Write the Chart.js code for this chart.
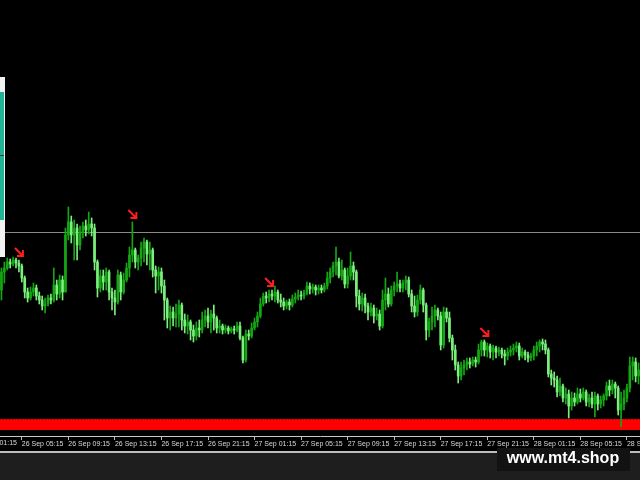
<!DOCTYPE html>
<html>
<head>
<meta charset="utf-8">
<title>M15 chart</title>
<script src="https://cdn.jsdelivr.net/npm/chart.js@4.4.0/dist/chart.umd.min.js"></script>
<style>
  html, body { margin: 0; padding: 0; background: #000; }
  canvas { display: block; }
</style>
</head>
<body>
<canvas id="priceChart" width="640" height="480"></canvas>
<script>
// first visible M15 bar: 26 Sep 03:30, one label every 16 bars
const firstBarUTC = Date.UTC(2023, 8, 26, 3, 30);
const barMinutes = 15;
const labelEvery = 16;
const labelOffset = 7;

// prices in points above the chart bottom
const firstOpen = 140;
const closes = [
  158, 162, 168, 166, 170, 167, 164, 152, 138, 132,
  138, 142, 134, 130, 124, 126, 132, 130, 145, 136,
  150, 138, 195, 208, 195, 202, 185, 198, 204, 200,
  206, 202, 168, 142, 154, 148, 158, 138, 132, 128,
  155, 138, 150, 162, 175, 180, 168, 172, 182, 188,
  176, 180, 160, 154, 158, 144, 130, 112, 118, 112,
  116, 125, 110, 104, 108, 100, 94, 102, 100, 110,
  114, 108, 116, 112, 102, 104, 100, 102, 99, 101,
  100, 104, 92, 70, 96, 94, 102, 108, 114, 126,
  134, 132, 136, 134, 138, 130, 128, 124, 128, 125,
  131, 133, 135, 134, 137, 144, 141, 143, 140, 142,
  140, 144, 152, 158, 164, 168, 154, 160, 146, 154,
  164, 158, 134, 126, 132, 124, 118, 122, 114, 116,
  104, 130, 136, 126, 140, 144, 146, 142, 147, 150,
  136, 124, 118, 130, 140, 125, 100, 108, 114, 120,
  114, 85, 118, 112, 92, 80, 65, 54, 62, 65,
  68, 66, 70, 68, 80, 88, 80, 84, 78, 82,
  78, 80, 76, 74, 78, 80, 82, 84, 74, 78,
  75, 72, 74, 80, 84, 88, 86, 80, 56, 52,
  50, 38, 44, 32, 36, 24, 32, 28, 36, 32,
  38, 28, 32, 26, 34, 26, 30, 34, 44, 40,
  46, 42, 20, 26, 32, 42, 64, 68, 54, 60,
];
const highs = [
  162, 168, 172, 171, 173, 172, 170, 166, 154, 142,
  143, 147, 145, 138, 134, 132, 135, 136, 162, 150,
  155, 154, 202, 223, 214, 210, 206, 204, 208, 210,
  218, 212, 206, 170, 160, 160, 162, 160, 142, 140,
  160, 158, 157, 167, 183, 208, 182, 175, 188, 192,
  190, 188, 182, 164, 163, 162, 150, 132, 124, 123,
  126, 130, 127, 116, 115, 110, 105, 108, 110, 118,
  120, 122, 120, 125, 114, 110, 106, 105, 104, 103,
  104, 108, 108, 94, 100, 100, 107, 112, 118, 132,
  137, 138, 140, 140, 144, 140, 136, 132, 130, 131,
  135, 137, 140, 139, 140, 148, 147, 146, 145, 145,
  145, 147, 158, 162, 168, 183, 172, 170, 162, 162,
  178, 168, 160, 140, 137, 136, 127, 127, 125, 122,
  120, 140, 152, 142, 144, 148, 158, 150, 150, 154,
  153, 140, 134, 135, 145, 142, 127, 112, 123, 125,
  122, 118, 123, 122, 118, 95, 85, 68, 68, 70,
  72, 72, 73, 73, 86, 90, 90, 87, 86, 85,
  84, 83, 82, 80, 82, 84, 86, 88, 87, 82,
  80, 78, 77, 84, 88, 90, 91, 90, 82, 60,
  58, 54, 52, 46, 42, 40, 38, 37, 42, 41,
  42, 40, 36, 38, 38, 36, 34, 36, 48, 50,
  50, 48, 44, 38, 40, 46, 73, 73, 72, 67,
];
const lows = [
  130, 147, 160, 162, 164, 162, 158, 148, 132, 128,
  130, 134, 130, 126, 120, 117, 124, 126, 128, 130,
  132, 130, 138, 190, 187, 170, 170, 180, 192, 194,
  196, 194, 160, 133, 138, 140, 140, 130, 120, 115,
  126, 130, 136, 148, 153, 168, 162, 160, 164, 168,
  165, 160, 153, 137, 140, 137, 110, 102, 100, 104,
  103, 103, 100, 97, 96, 90, 88, 90, 93, 97,
  103, 102, 97, 100, 97, 97, 96, 97, 96, 97,
  96, 98, 90, 67, 68, 90, 92, 100, 103, 112,
  124, 127, 128, 130, 128, 127, 123, 120, 121, 120,
  123, 127, 130, 130, 131, 135, 136, 137, 135, 136,
  137, 138, 141, 147, 153, 155, 152, 150, 142, 142,
  150, 150, 123, 120, 119, 117, 110, 114, 107, 110,
  100, 102, 120, 123, 124, 134, 138, 138, 138, 140,
  133, 118, 113, 114, 126, 118, 90, 93, 100, 103,
  110, 80, 82, 108, 88, 70, 60, 47, 50, 55,
  60, 62, 64, 63, 66, 74, 74, 73, 72, 70,
  72, 74, 72, 65, 70, 74, 75, 78, 70, 72,
  70, 68, 69, 70, 74, 78, 80, 76, 53, 45,
  43, 33, 34, 28, 26, 12, 20, 24, 26, 28,
  30, 24, 23, 22, 13, 20, 22, 24, 30, 34,
  36, 32, 15, 3, 20, 28, 38, 50, 48, 46,
];

// sell arrows (bar index, price) and horizontal levels
const arrowBars = [6, 45, 92, 166];
const arrowPrices = [178, 216, 148, 98];
const bidLevel = 198;
const redZone = [0, 11];

const monthNames = ["Jan", "Feb", "Mar", "Apr", "May", "Jun", "Jul", "Aug", "Sep", "Oct", "Nov", "Dec"];
const pad2 = (n) => String(n).padStart(2, "0");
const fmtTime = (ms) => {
  const d = new Date(ms);
  return d.getUTCDate() + " " + monthNames[d.getUTCMonth()] + " " + pad2(d.getUTCHours()) + ":" + pad2(d.getUTCMinutes());
};
const barTimes = closes.map((c, i) => fmtTime(firstBarUTC + i * barMinutes * 60000));

const opens = closes.map((c, i) => (i === 0 ? firstOpen : closes[i - 1]));
const bullColor = "#13a813";
const bearColor = "#7bef7b";
const candleColors = closes.map((c, i) => (c >= opens[i] ? bullColor : bearColor));

const isLabelBar = (i) => i % labelEvery === labelOffset;

const mt4Decor = {
  id: "mt4Decor",
  beforeDraw(chart) {
    const ctx = chart.ctx;
    ctx.save();
    ctx.fillStyle = "#000";
    ctx.fillRect(0, 0, chart.width, chart.height);
    ctx.restore();
  },
  beforeDatasetsDraw(chart) {
    const { ctx, chartArea } = chart;
    const y = chart.scales.y;
    ctx.save();
    // red zone at the bottom
    const zTop = y.getPixelForValue(redZone[1]);
    const zBot = y.getPixelForValue(redZone[0]);
    ctx.fillStyle = "#ff0000";
    ctx.fillRect(chartArea.left, zTop, chartArea.width, zBot - zTop);
    ctx.strokeStyle = "#a00000";
    ctx.lineWidth = 1;
    ctx.setLineDash([1, 2]);
    ctx.beginPath();
    ctx.moveTo(chartArea.left, Math.round(zTop) + 0.5);
    ctx.lineTo(chartArea.right, Math.round(zTop) + 0.5);
    ctx.stroke();
    ctx.setLineDash([]);
    // bid line
    const by = Math.round(y.getPixelForValue(bidLevel)) + 0.5;
    ctx.strokeStyle = "#8a8a8a";
    ctx.beginPath();
    ctx.moveTo(chartArea.left, by);
    ctx.lineTo(chartArea.right, by);
    ctx.stroke();
    ctx.restore();
  },
  afterDatasetsDraw(chart) {
    const ctx = chart.ctx;
    const { x, y } = chart.scales;
    ctx.save();
    // arrows
    ctx.strokeStyle = "#ff1e1e";
    ctx.lineWidth = 2;
    arrowBars.forEach((bar, k) => {
      const ax = x.getPixelForValue(bar);
      const ay = y.getPixelForValue(arrowPrices[k]);
      ctx.beginPath();
      ctx.moveTo(ax - 4, ay - 4);
      ctx.lineTo(ax + 4, ay + 4);
      ctx.moveTo(ax + 4, ay - 2);
      ctx.lineTo(ax + 4, ay + 4);
      ctx.lineTo(ax - 2, ay + 4);
      ctx.stroke();
    });
    // cut off panel on the left edge
    ctx.fillStyle = "#f2f2f2";
    ctx.fillRect(0, 77, 5, 180);
    ctx.fillStyle = "#1fb594";
    ctx.fillRect(0, 92, 4, 128);
    ctx.fillStyle = "#3a3a3a";
    ctx.fillRect(0, 155, 4, 1);
    ctx.restore();
  },
  afterDraw(chart) {
    const ctx = chart.ctx;
    const x = chart.scales.x;
    ctx.save();
    // label of the bar before the window
    const step = x.getPixelForValue(labelOffset + labelEvery) - x.getPixelForValue(labelOffset);
    const lx = x.getPixelForValue(labelOffset) - step;
    ctx.font = "7px 'Liberation Sans'";
    ctx.fillStyle = "#d8d8d8";
    ctx.textBaseline = "top";
    ctx.textAlign = "left";
    ctx.fillText(fmtTime(firstBarUTC + (labelOffset - labelEvery) * barMinutes * 60000), lx, 440);
    // bottom strip
    ctx.fillStyle = "#1e1e1e";
    ctx.fillRect(0, 452, chart.width, chart.height - 452);
    ctx.fillStyle = "#bdbdbd";
    ctx.fillRect(0, 451, chart.width, 2);
    // watermark
    ctx.fillStyle = "#121212";
    ctx.fillRect(497, 448, 133, 23);
    ctx.fillStyle = "#ffffff";
    ctx.font = "bold 16px 'Liberation Sans'";
    ctx.textAlign = "center";
    ctx.textBaseline = "middle";
    ctx.fillText("www.mt4.shop", 563, 459);
    ctx.restore();
  },
};

const ctx = document.getElementById("priceChart").getContext("2d");
const priceChart = new Chart(ctx, {
  type: "bar",
  data: {
    labels: barTimes,
    datasets: [
      {
        label: "Body",
        data: opens.map((o, i) => [o, closes[i]]),
        backgroundColor: candleColors,
        borderWidth: 0,
        barThickness: 2,
        minBarLength: 1,
        grouped: false,
      },
      {
        label: "Wick",
        data: lows.map((l, i) => [l, highs[i]]),
        backgroundColor: candleColors,
        borderWidth: 0,
        barThickness: 1,
        grouped: false,
      },
    ],
  },
  options: {
    responsive: false,
    animation: false,
    devicePixelRatio: 1,
    layout: { padding: 0 },
    scales: {
      x: {
        afterFit: (scale) => {
          scale.height = 44;
        },
        border: { display: true, color: "#c8c8c8", width: 1 },
        grid: {
          drawOnChartArea: false,
          drawTicks: true,
          tickLength: 4,
          offset: false,
          color: (c) => (isLabelBar(c.index) ? "#bdbdbd" : "rgba(0,0,0,0)"),
        },
        ticks: {
          autoSkip: false,
          maxRotation: 0,
          minRotation: 0,
          align: "start",
          padding: 0,
          color: "#d8d8d8",
          font: { family: "'Liberation Sans'", size: 7 },
          callback: (val, i) => (isLabelBar(i) ? barTimes[i] : ""),
        },
      },
      y: {
        display: false,
        min: -6,
        max: 430,
      },
    },
    plugins: {
      legend: { display: false },
      tooltip: { enabled: false },
    },
  },
  plugins: [mt4Decor],
});
</script>
</body>
</html>
